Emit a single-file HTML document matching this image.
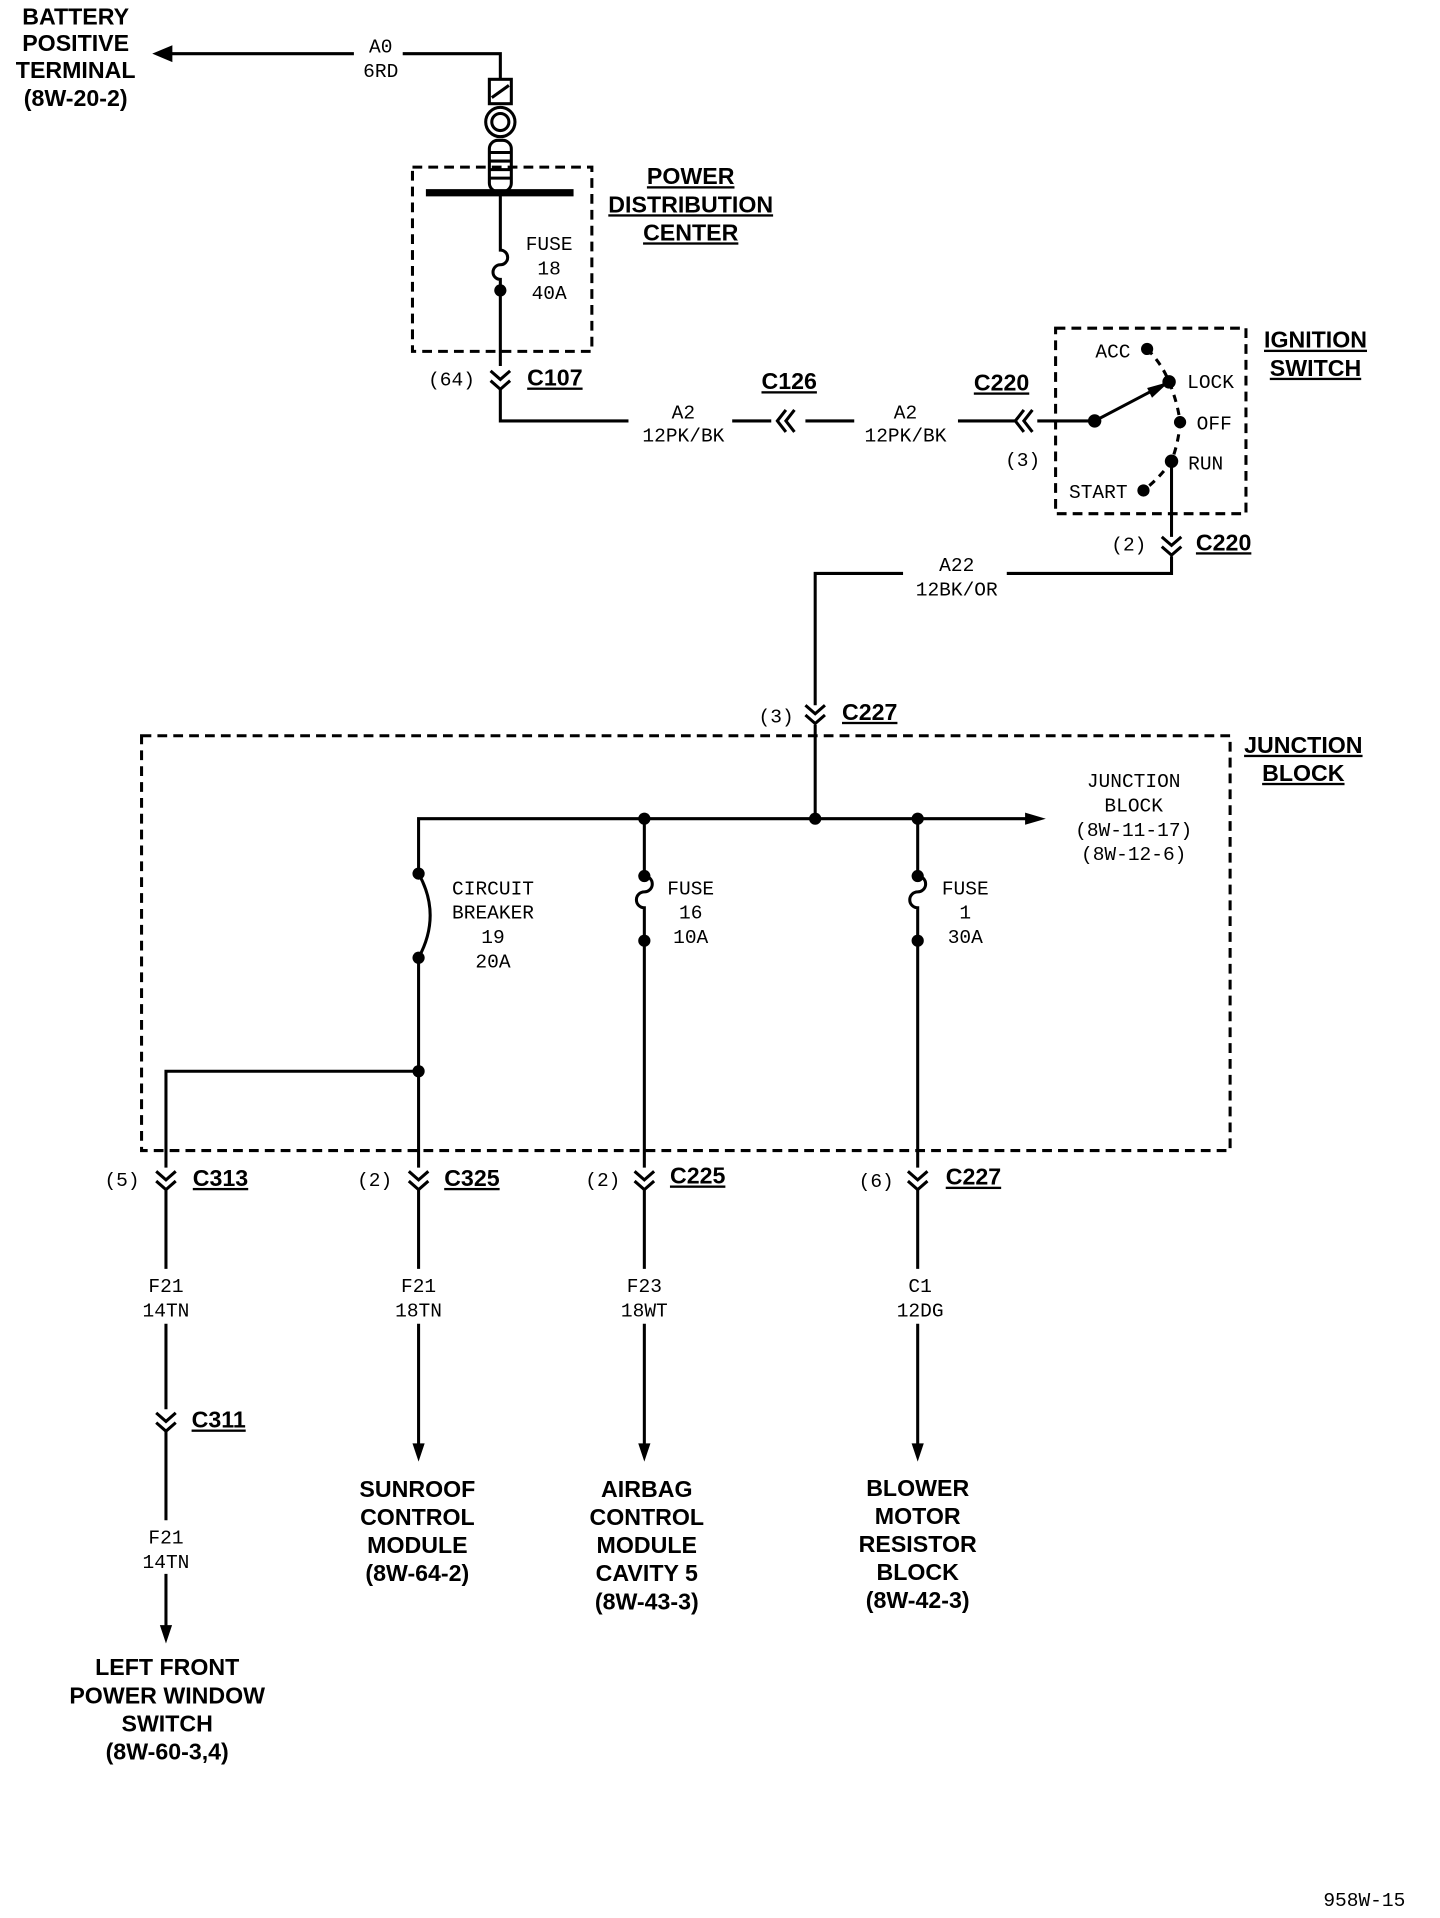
<!DOCTYPE html>
<html><head><meta charset="utf-8"><style>
html,body{margin:0;padding:0;background:#fff}
svg{display:block}
.w{font-family:"Liberation Mono",monospace;font-size:16px;fill:#000;text-anchor:middle}
.b{font-family:"Liberation Sans",sans-serif;font-weight:bold;font-size:19px;fill:#000;text-anchor:middle}
.c{font-family:"Liberation Sans",sans-serif;font-weight:bold;font-size:19px;fill:#000;text-decoration:underline}
</style></head><body>
<svg width="1440" height="1918" viewBox="0 0 1180 1572" preserveAspectRatio="none" xmlns="http://www.w3.org/2000/svg">
<defs>
<g id="vd" fill="none" stroke="#000" stroke-width="2.5"><path d="M-8,-8 L0,-1 L8,-8 M-8,0 L0,7 L8,0"/></g>
<g id="hl" fill="none" stroke="#000" stroke-width="2.5"><path d="M7,-9 L0,0 L7,9 M14,-9 L7,0 L14,9"/></g>
</defs>
<g fill="none" stroke="#000" stroke-width="2.5">
<path d="M290,44 H135 M330,44 H410 V65"/>
<polygon points="128,44 140,39 140,49" fill="#000"/>
<rect x="401" y="65" width="18" height="20"/><path d="M403,80 L417,70"/>
<circle cx="410" cy="100" r="12"/><circle cx="410" cy="100" r="7"/>
<rect x="401" y="115" width="18" height="42" rx="7"/>
<path d="M401,125 H419 M401,132 H419 M401,139 H419 M401,146 H419"/>
<path d="M349,158 H470" stroke-width="6"/>
<rect x="338" y="137" width="147" height="151" stroke-dasharray="8,5"/>
<path d="M410,158 V205 a6,6 0 0 1 0,12 a6,6 0 0 0 0,12 V300"/>
<path d="M410,318 V345 H515 M600,345 H632 M660,345 H700 M785,345 H832 M850,345 H897 L958,313"/>
<rect x="865" y="269" width="156" height="152" stroke-dasharray="8,5"/>
<path d="M940,286 Q952,298 958,313 Q965,330 967,346 Q966,362 960,378 Q950,392 937,402" stroke-dasharray="6,5"/>
<path d="M960,378 V440 M960,456 V470 H825 M740,470 H668 V578 M668,594 V671"/>
<rect x="116" y="603" width="892" height="340" stroke-dasharray="8,5"/>
<path d="M343,716 V671 H842"/>
<path d="M343,716 Q362,750 343,785 V957 M343,975 V1040 M343,1085 V1185"/>
<path d="M343,878 H136 V957 M136,975 V1040 M136,1085 V1155 M136,1173 V1246 M136,1290 V1335"/>
<path d="M528,671 V718 a6,6 0 0 1 0,13 a6,6 0 0 0 0,13 V957 M528,975 V1040 M528,1085 V1185"/>
<path d="M752,671 V718 a6,6 0 0 1 0,13 a6,6 0 0 0 0,13 V957 M752,975 V1040 M752,1085 V1185"/>
</g>
<g fill="#000">
<circle cx="410" cy="238" r="5"/>
<circle cx="897" cy="345" r="5.5"/><circle cx="958" cy="313" r="5.5"/><circle cx="940" cy="286" r="5"/>
<circle cx="967" cy="346" r="5"/><circle cx="960" cy="378" r="5.5"/><circle cx="937" cy="402" r="5"/>
<polygon points="958,313 940,318 944,326"/>
<circle cx="528" cy="671" r="5"/><circle cx="668" cy="671" r="5"/><circle cx="752" cy="671" r="5"/>
<circle cx="343" cy="716" r="5"/><circle cx="343" cy="785" r="5"/><circle cx="343" cy="878" r="5"/>
<circle cx="528" cy="718" r="5"/><circle cx="528" cy="771" r="5"/>
<circle cx="752" cy="718" r="5"/><circle cx="752" cy="771" r="5"/>
<polygon points="857,671 840,666 840,676"/>
<polygon points="343,1198 338,1183 348,1183"/><polygon points="528,1198 523,1183 533,1183"/>
<polygon points="752,1198 747,1183 757,1183"/><polygon points="136,1347 131,1332 141,1332"/>
</g>
<use href="#vd" x="410" y="312"/><use href="#vd" x="960" y="448"/><use href="#vd" x="668" y="586"/>
<use href="#vd" x="136" y="968"/><use href="#vd" x="343" y="968"/><use href="#vd" x="528" y="968"/><use href="#vd" x="752" y="968"/>
<use href="#vd" x="136" y="1166"/>
<use href="#hl" x="637" y="345"/><use href="#hl" x="832" y="345"/>
<text class="b"><tspan x="62" y="20">BATTERY</tspan><tspan x="62" y="42">POSITIVE</tspan><tspan x="62" y="64">TERMINAL</tspan><tspan x="62" y="87">(8W-20-2)</tspan></text>
<text class="w"><tspan x="312" y="43">A0</tspan><tspan x="312" y="63">6RD</tspan></text>
<text class="b" text-decoration="underline"><tspan x="566" y="151">POWER</tspan><tspan x="566" y="174">DISTRIBUTION</tspan><tspan x="566" y="197">CENTER</tspan></text>
<text class="w"><tspan x="450" y="205">FUSE</tspan><tspan x="450" y="225">18</tspan><tspan x="450" y="245">40A</tspan></text>
<text class="w" x="370" y="316">(64)</text><text class="c" x="432" y="316">C107</text>
<text class="w"><tspan x="560" y="343">A2</tspan><tspan x="560" y="362">12PK/BK</tspan></text>
<text class="c" x="624" y="319">C126</text>
<text class="w"><tspan x="742" y="343">A2</tspan><tspan x="742" y="362">12PK/BK</tspan></text>
<text class="c" x="798" y="320">C220</text>
<text class="w" x="838" y="382">(3)</text>
<text class="b" text-decoration="underline"><tspan x="1078" y="285">IGNITION</tspan><tspan x="1078" y="308">SWITCH</tspan></text>
<text class="w" x="912" y="293">ACC</text><text class="w" x="992" y="318">LOCK</text><text class="w" x="995" y="352">OFF</text>
<text class="w" x="988" y="385">RUN</text><text class="w" x="900" y="408">START</text>
<text class="w" x="925" y="451">(2)</text><text class="c" x="980" y="451">C220</text>
<text class="w"><tspan x="784" y="468">A22</tspan><tspan x="784" y="488">12BK/OR</tspan></text>
<text class="w" x="636" y="592">(3)</text><text class="c" x="690" y="590">C227</text>
<text class="b" text-decoration="underline"><tspan x="1068" y="617">JUNCTION</tspan><tspan x="1068" y="640">BLOCK</tspan></text>
<text class="w"><tspan x="929" y="645">JUNCTION</tspan><tspan x="929" y="665">BLOCK</tspan><tspan x="929" y="685">(8W-11-17)</tspan><tspan x="929" y="705">(8W-12-6)</tspan></text>
<text class="w"><tspan x="404" y="733">CIRCUIT</tspan><tspan x="404" y="753">BREAKER</tspan><tspan x="404" y="773">19</tspan><tspan x="404" y="793">20A</tspan></text>
<text class="w"><tspan x="566" y="733">FUSE</tspan><tspan x="566" y="753">16</tspan><tspan x="566" y="773">10A</tspan></text>
<text class="w"><tspan x="791" y="733">FUSE</tspan><tspan x="791" y="753">1</tspan><tspan x="791" y="773">30A</tspan></text>
<text class="w" x="100" y="972">(5)</text><text class="c" x="158" y="972">C313</text>
<text class="w" x="307" y="972">(2)</text><text class="c" x="364" y="972">C325</text>
<text class="w" x="494" y="972">(2)</text><text class="c" x="549" y="970">C225</text>
<text class="w" x="718" y="973">(6)</text><text class="c" x="775" y="971">C227</text>
<text class="w"><tspan x="136" y="1059">F21</tspan><tspan x="136" y="1079">14TN</tspan></text>
<text class="w"><tspan x="343" y="1059">F21</tspan><tspan x="343" y="1079">18TN</tspan></text>
<text class="w"><tspan x="528" y="1059">F23</tspan><tspan x="528" y="1079">18WT</tspan></text>
<text class="w"><tspan x="754" y="1059">C1</tspan><tspan x="754" y="1079">12DG</tspan></text>
<text class="c" x="157" y="1170">C311</text>
<text class="w"><tspan x="136" y="1265">F21</tspan><tspan x="136" y="1285">14TN</tspan></text>
<text class="b"><tspan x="342" y="1227">SUNROOF</tspan><tspan x="342" y="1250">CONTROL</tspan><tspan x="342" y="1273">MODULE</tspan><tspan x="342" y="1296">(8W-64-2)</tspan></text>
<text class="b"><tspan x="530" y="1227">AIRBAG</tspan><tspan x="530" y="1250">CONTROL</tspan><tspan x="530" y="1273">MODULE</tspan><tspan x="530" y="1296">CAVITY 5</tspan><tspan x="530" y="1319">(8W-43-3)</tspan></text>
<text class="b"><tspan x="752" y="1226">BLOWER</tspan><tspan x="752" y="1249">MOTOR</tspan><tspan x="752" y="1272">RESISTOR</tspan><tspan x="752" y="1295">BLOCK</tspan><tspan x="752" y="1318">(8W-42-3)</tspan></text>
<text class="b"><tspan x="137" y="1373">LEFT FRONT</tspan><tspan x="137" y="1396">POWER WINDOW</tspan><tspan x="137" y="1419">SWITCH</tspan><tspan x="137" y="1442">(8W-60-3,4)</tspan></text>
<text class="w" x="1118" y="1562">958W-15</text>
</svg>
</body></html>
